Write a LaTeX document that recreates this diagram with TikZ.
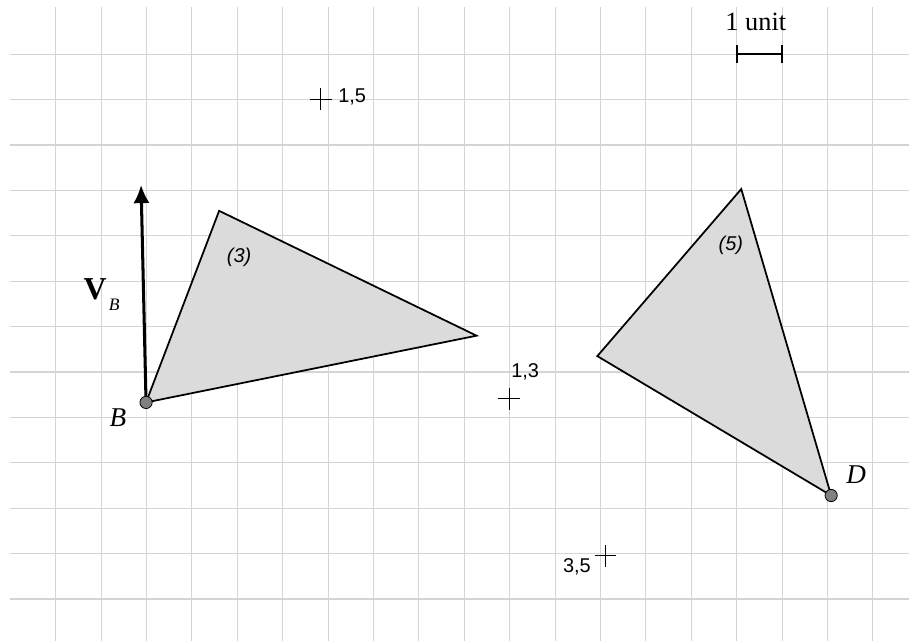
\documentclass[tikz,border=0pt]{standalone}
\usepackage{fontspec}
\setmainfont{Liberation Serif}
\setsansfont{Liberation Sans}
\usetikzlibrary{arrows.meta,calc}

\begin{document}
\begin{tikzpicture}[
        gridline/.style={draw=black!17, line width=0.65pt},
        body/.style={draw=black, fill=black!14, line width=1.1pt, line join=miter},
        pin/.style={circle, draw=black, fill=black!50, line width=0.5pt, inner sep=0pt, minimum size=0.27cm},
        centre/.style={draw=black, line width=0.6pt},
        numlabel/.style={font=\sffamily\fontsize{12.5}{14}\selectfont, inner sep=1pt},
        ptlabel/.style={font=\itshape\fontsize{17}{19}\selectfont, inner sep=1pt}
    ]
        \useasboundingbox (-1.227,-0.903) rectangle (18.795,13.194);

        % grid
        \foreach \x in {0,...,18}
            \draw[gridline] (\x,-0.95) -- (\x,13.05);
        \foreach \y in {0,...,12}
            \draw[gridline] (-1,\y) -- (18.85,\y);

        % body 3
        \coordinate (Bc) at (1.99,4.33);
        \coordinate (b3top) at (3.60,8.55);
        \coordinate (b3right) at (9.27,5.80);
        \draw[body] (Bc) -- (b3top) -- (b3right) -- cycle;
        \node[numlabel, font=\sffamily\itshape\fontsize{12.5}{14}\selectfont] (lab3) at (4.04,7.53) {(3)};

        % velocity of B
        \coordinate (vtip) at (1.88,9.12);
        \draw[-{Latex[length=0.4cm, width=0.36cm]}, line width=1.9pt] (Bc) -- (vtip);
        \node[inner sep=0pt, font=\bfseries\fontsize{20}{22}\selectfont] (vlab) at (0.87,6.82) {V};
        \node[inner sep=0pt, font=\itshape\fontsize{11}{12}\selectfont] (vsub) at (1.29,6.47) {B};
        \node[pin] (B) at (Bc) {};
        \node[ptlabel] (blab) at (1.37,3.99) {B};

        % body 5
        \coordinate (b5top) at (15.10,9.03);
        \coordinate (b5left) at (11.93,5.35);
        \coordinate (Dc) at (17.08,2.28);
        \draw[body] (Dc) -- (b5top) -- (b5left) -- cycle;
        \node[pin] (D) at (Dc) {};
        \node[ptlabel] (dlab) at (17.63,2.75) {D};
        \node[numlabel, font=\sffamily\itshape\fontsize{12.5}{14}\selectfont] (lab5) at (14.87,7.80) {(5)};

        % instant centres
        \coordinate (c15) at (5.84,11.01);
        \coordinate (c13) at (9.99,4.41);
        \coordinate (c35) at (12.11,0.95);
        \foreach \c in {c15,c13,c35}
            \draw[centre] ($(\c)+(-0.24,0)$) -- ++(0.48,0) ($(\c)+(0,-0.24)$) -- ++(0,0.48);
        \node[numlabel] (l15) at (6.53,11.07) {1,5};
        \node[numlabel] (l13) at (10.34,5.00) {1,3};
        \node[numlabel] (l35) at (11.48,0.71) {3,5};

        % scale bar
        \coordinate (s0) at (15,12);
        \coordinate (s1) at (16,12);
        \draw[line width=1.1pt] (s0) -- (s1);
        \draw[line width=1.1pt] ($(s0)+(0,-0.2)$) -- ($(s0)+(0,0.2)$);
        \draw[line width=1.1pt] ($(s1)+(0,-0.2)$) -- ($(s1)+(0,0.2)$);
        \node[inner sep=0pt, font=\fontsize{16.5}{18}\selectfont] (unit) at (15.42,12.72) {1 unit};
    \end{tikzpicture}
\end{document}
